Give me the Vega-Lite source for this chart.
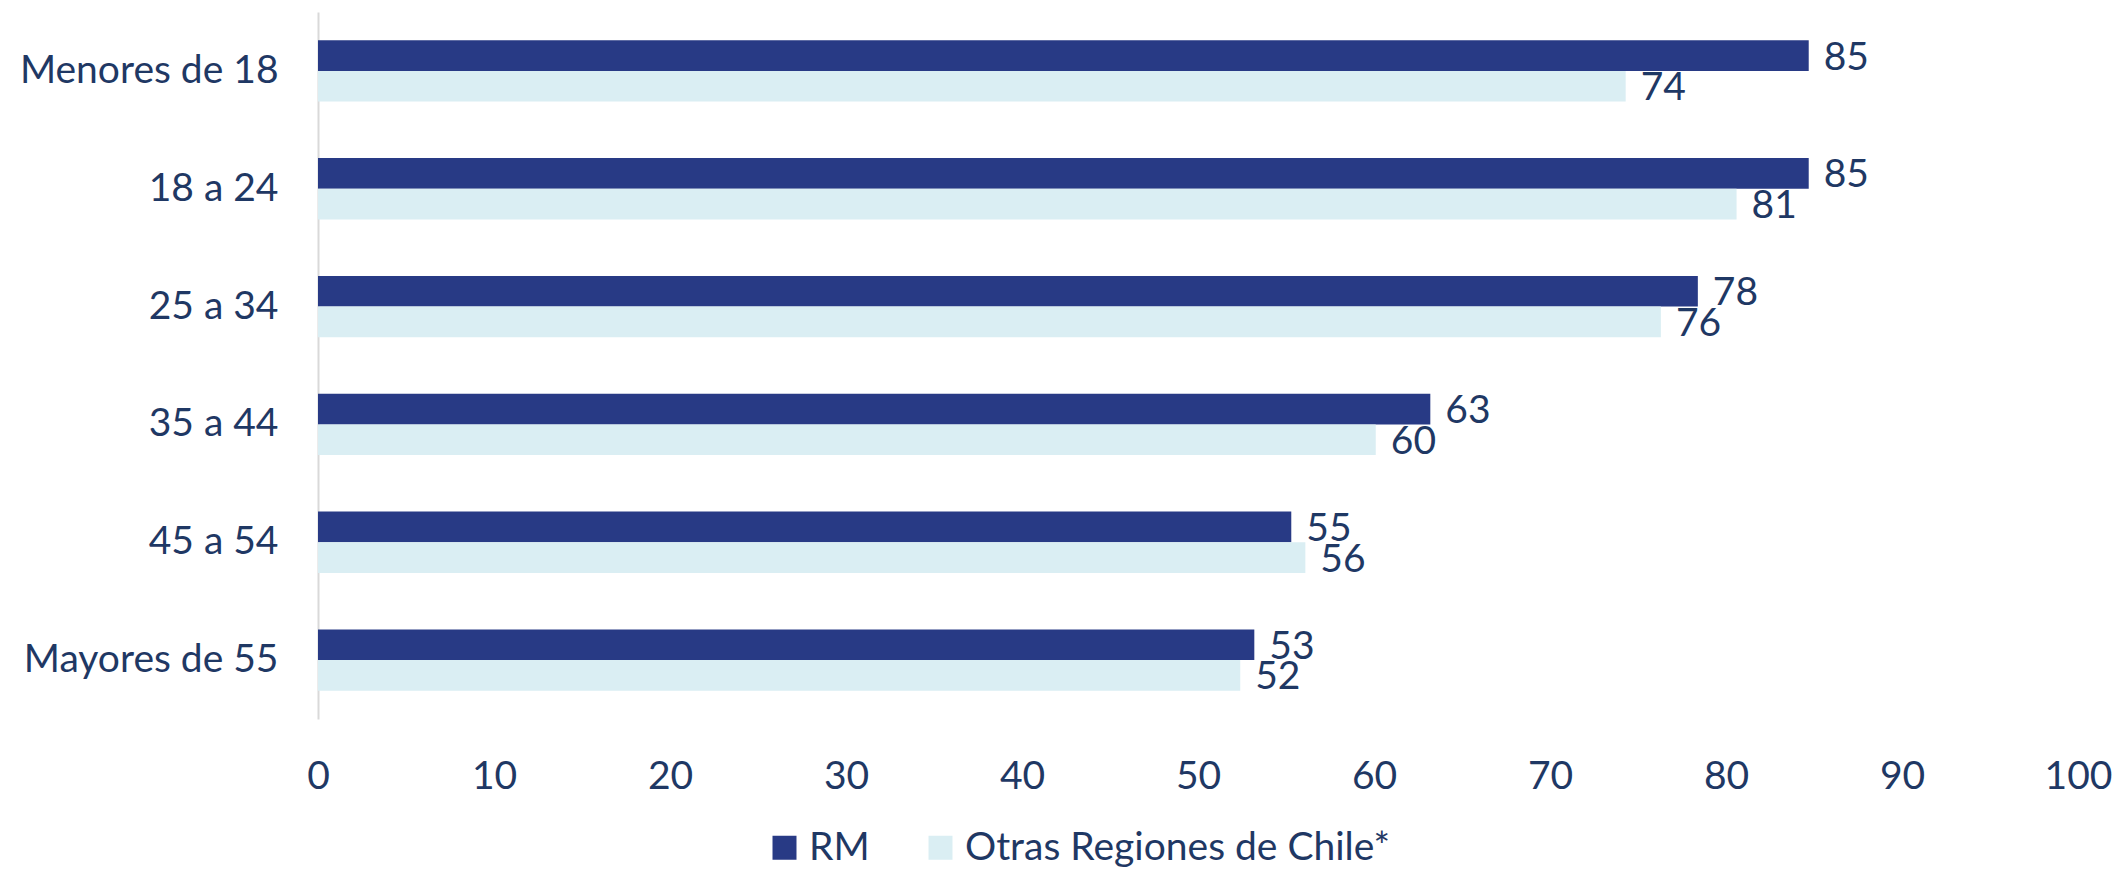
{
  "$schema": "https://vega.github.io/schema/vega-lite/v6.json",
  "autosize": {"type": "none"},
  "width": 1760,
  "height": 707,
  "padding": {"left": 318, "top": 12, "right": 40, "bottom": 150},
  "background": "white",
  "config": {
    "view": {"stroke": null},
    "font": "Lato",
    "axis": {"labelFont": "Lato", "labelColor": "#1F3864", "labelFontSize": 39, "grid": false, "ticks": false, "labelLimit": 0},
    "legend": {"labelFont": "Lato", "labelColor": "#1F3864", "labelFontSize": 39, "labelLimit": 0}
  },
  "data": {
    "values": [
      {"grupo": "Menores de 18", "serie": "RM", "valor": 84.7},
      {"grupo": "Menores de 18", "serie": "Otras Regiones de Chile*", "valor": 74.3},
      {"grupo": "18 a 24", "serie": "RM", "valor": 84.7},
      {"grupo": "18 a 24", "serie": "Otras Regiones de Chile*", "valor": 80.6},
      {"grupo": "25 a 34", "serie": "RM", "valor": 78.4},
      {"grupo": "25 a 34", "serie": "Otras Regiones de Chile*", "valor": 76.3},
      {"grupo": "35 a 44", "serie": "RM", "valor": 63.2},
      {"grupo": "35 a 44", "serie": "Otras Regiones de Chile*", "valor": 60.1},
      {"grupo": "45 a 54", "serie": "RM", "valor": 55.3},
      {"grupo": "45 a 54", "serie": "Otras Regiones de Chile*", "valor": 56.1},
      {"grupo": "Mayores de 55", "serie": "RM", "valor": 53.2},
      {"grupo": "Mayores de 55", "serie": "Otras Regiones de Chile*", "valor": 52.4}
    ]
  },
  "encoding": {
    "y": {
      "field": "grupo", "type": "nominal",
      "sort": ["Menores de 18", "18 a 24", "25 a 34", "35 a 44", "45 a 54", "Mayores de 55"],
      "scale": {"paddingInner": 0.48, "paddingOuter": 0.24},
      "axis": {"title": null, "domain": true, "domainColor": "#D9D9D9", "domainWidth": 2, "labelPadding": 40, "labelLimit": 0}
    },
    "yOffset": {
      "field": "serie", "type": "nominal",
      "sort": ["RM", "Otras Regiones de Chile*"],
      "scale": {"paddingInner": 0, "paddingOuter": 0}
    },
    "x": {
      "field": "valor", "type": "quantitative",
      "scale": {"domain": [0, 100], "nice": false},
      "axis": {"title": null, "domain": false, "values": [0, 10, 20, 30, 40, 50, 60, 70, 80, 90, 100], "labelPadding": 38, "labelFlush": false}
    }
  },
  "layer": [
    {
      "mark": {"type": "bar"},
      "encoding": {
        "color": {
          "field": "serie", "type": "nominal",
          "sort": ["RM", "Otras Regiones de Chile*"],
          "scale": {"domain": ["RM", "Otras Regiones de Chile*"], "range": ["#283A85", "#DAEEF3"]},
          "legend": {
            "title": null, "orient": "none", "direction": "horizontal",
            "legendX": 447, "legendY": 816,
            "symbolType": "square", "symbolSize": 576, "symbolStrokeWidth": 0,
            "labelOffset": 5, "columnPadding": 51, "labelLimit": 0
          }
        }
      }
    },
    {
      "mark": {"type": "text", "align": "left", "baseline": "middle", "dx": 15, "dy": 2, "fontSize": 39, "font": "Lato", "color": "#1F3864"},
      "encoding": {
        "text": {"field": "valor", "type": "quantitative", "format": ".0f"}
      }
    }
  ]
}
